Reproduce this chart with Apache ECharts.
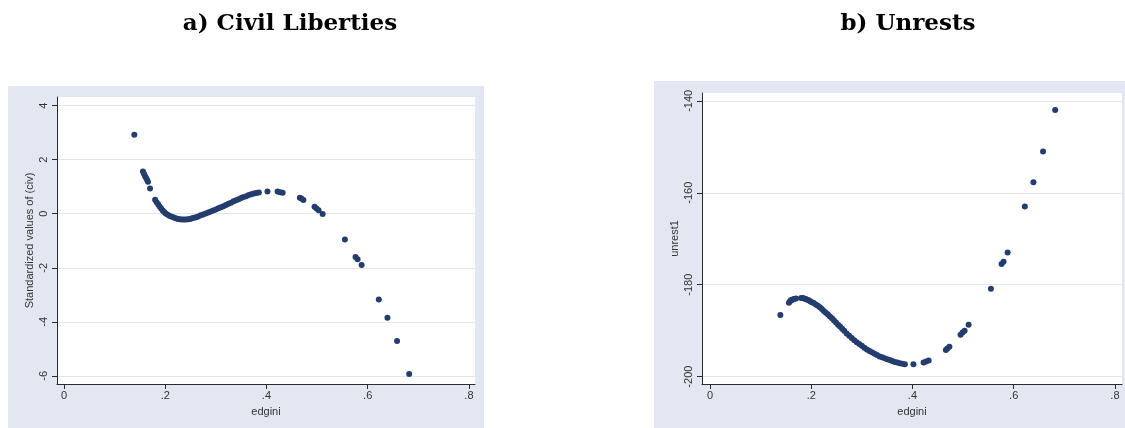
<!DOCTYPE html>
<html>
<head>
<meta charset="utf-8">
<script src="https://cdn.jsdelivr.net/npm/echarts@6/dist/echarts.min.js"></script>
<style>
  html, body { margin: 0; padding: 0; background: #ffffff; }
  #chart { width: 1125px; height: 428px; }
</style>
</head>
<body>
<div id="chart"></div>
<script>
// Panel titles
const panelTitles = ['a) Civil Liberties', 'b) Unrests'];

// Shared x values (edgini)
const edgini = [
  0.139, 0.156, 0.158, 0.160, 0.162, 0.164, 0.166, 0.170, 0.180, 0.183,
  0.186, 0.189, 0.192, 0.195, 0.198, 0.201, 0.205, 0.209, 0.213, 0.217,
  0.221, 0.225, 0.229, 0.233, 0.237, 0.241, 0.245, 0.249, 0.253, 0.257,
  0.261, 0.265, 0.270, 0.275, 0.280, 0.285, 0.290, 0.295, 0.300, 0.305,
  0.310, 0.315, 0.320, 0.325, 0.330, 0.335, 0.340, 0.345, 0.350, 0.355,
  0.360, 0.365, 0.370, 0.375, 0.380, 0.385, 0.402, 0.422, 0.427, 0.432,
  0.466, 0.469, 0.473, 0.495, 0.499, 0.503, 0.511, 0.555, 0.576, 0.580,
  0.588, 0.622, 0.639, 0.658, 0.682
];

// Standardized values of (civ)
const civ = [
  2.92, 1.56, 1.48, 1.40, 1.33, 1.26, 1.18, 0.93, 0.52, 0.43,
  0.35, 0.27, 0.19, 0.12, 0.06, 0.01, -0.04, -0.08, -0.11, -0.14,
  -0.17, -0.19, -0.20, -0.21, -0.21, -0.21, -0.20, -0.19, -0.17, -0.15,
  -0.13, -0.10, -0.06, -0.03, 0.01, 0.05, 0.08, 0.12, 0.16, 0.20,
  0.24, 0.28, 0.32, 0.37, 0.41, 0.46, 0.50, 0.54, 0.58, 0.62,
  0.65, 0.69, 0.72, 0.75, 0.77, 0.79, 0.82, 0.82, 0.80, 0.78,
  0.59, 0.56, 0.51, 0.26, 0.19, 0.13, -0.01, -0.95, -1.60, -1.68,
  -1.90, -3.17, -3.85, -4.71, -5.93
];

// unrest1
const unrest1 = [
  -186.6, -183.9, -183.6, -183.4, -183.3, -183.2, -183.1, -183.0, -182.9, -182.9,
  -183.0, -183.1, -183.3, -183.4, -183.6, -183.8, -184.0, -184.3, -184.6, -184.9,
  -185.3, -185.7, -186.1, -186.5, -186.9, -187.3, -187.8, -188.2, -188.7, -189.1,
  -189.6, -190.0, -190.6, -191.1, -191.6, -192.1, -192.5, -192.9, -193.3, -193.7,
  -194.1, -194.4, -194.7, -195.0, -195.3, -195.6, -195.8, -196.0, -196.2, -196.4,
  -196.6, -196.8, -196.9, -197.1, -197.2, -197.3, -197.3, -196.9, -196.7, -196.5,
  -194.2, -193.9, -193.5, -190.9, -190.4, -190.0, -188.7, -180.9, -175.5, -175.0,
  -173.0, -163.0, -157.7, -151.0, -142.0
];

// Tick labels
const xTicks = [0, 0.2, 0.4, 0.6, 0.8];
const civTicks = [-6, -4, -2, 0, 2, 4];
const unrestTicks = [-200, -180, -160, -140];

const markerColor = '#233d6e';
const panelBg = '#e2e7f1';
const gridColor = '#e3e8f0';
const axisColor = '#2b2b2b';
const labelFont = { fontFamily: 'Liberation Sans, Arial, sans-serif', fontSize: 11, color: '#333333' };

const fmtX = v => (v === 0 ? '0' : String(v).replace(/^0/, ''));

function xAxisFor(gridIndex, min, max) {
  return {
    type: 'value', gridIndex, min, max,
    name: 'edgini', nameLocation: 'middle', nameGap: 22,
    nameTextStyle: labelFont,
    axisLine: { show: true, onZero: false, lineStyle: { color: axisColor, width: 1 } },
    axisTick: { show: true, inside: false, length: 5, customValues: xTicks, lineStyle: { color: axisColor } },
    axisLabel: Object.assign({ customValues: xTicks, margin: 6, formatter: fmtX }, labelFont),
    splitLine: { show: false }
  };
}

function yAxisFor(gridIndex, min, max, ticks, name, nameGap) {
  return {
    type: 'value', gridIndex, min, max,
    name, nameLocation: 'middle', nameGap,
    nameTextStyle: labelFont,
    axisLine: { show: true, onZero: false, lineStyle: { color: axisColor, width: 1 } },
    axisTick: { show: true, inside: false, length: 5, customValues: ticks, lineStyle: { color: axisColor } },
    axisLabel: Object.assign({ customValues: ticks, rotate: 90, margin: 8 }, labelFont),
    splitLine: { show: true, lineStyle: { color: gridColor, width: 1 } }
  };
}

const chart = echarts.init(document.getElementById('chart'), null, { renderer: 'canvas' });

chart.setOption({
  backgroundColor: '#ffffff',
  animation: false,
  graphic: [
    { type: 'rect', z: -10, shape: { x: 8, y: 86, width: 476, height: 342 }, style: { fill: panelBg } },
    { type: 'rect', z: -10, shape: { x: 654, y: 81, width: 471, height: 347 }, style: { fill: panelBg } }
  ],
  title: [
    { text: panelTitles[0], left: 285, top: 8, textAlign: 'center',
      textStyle: { fontFamily: 'DejaVu Serif', fontWeight: 'bold', fontSize: 23, color: '#000' } },
    { text: panelTitles[1], left: 903, top: 8, textAlign: 'center',
      textStyle: { fontFamily: 'DejaVu Serif', fontWeight: 'bold', fontSize: 23, color: '#000' } }
  ],
  grid: [
    { left: 57, right: 650, top: 97, bottom: 44, show: true, backgroundColor: '#ffffff', borderWidth: 0, containLabel: false },
    { left: 702, right: 3, top: 93, bottom: 44, show: true, backgroundColor: '#ffffff', borderWidth: 0, containLabel: false }
  ],
  xAxis: [
    xAxisFor(0, -0.0138, 0.812),
    xAxisFor(1, -0.0158, 0.814)
  ],
  yAxis: [
    yAxisFor(0, -6.3, 4.32, civTicks, 'Standardized values of (civ)', 22),
    yAxisFor(1, -201.6, -138.3, unrestTicks, 'unrest1', 22)
  ],
  series: [
    {
      type: 'scatter', xAxisIndex: 0, yAxisIndex: 0, symbolSize: 6,
      itemStyle: { color: markerColor, opacity: 1 },
      data: edgini.map((x, i) => [x, civ[i]])
    },
    {
      type: 'scatter', xAxisIndex: 1, yAxisIndex: 1, symbolSize: 6,
      itemStyle: { color: markerColor, opacity: 1 },
      data: edgini.map((x, i) => [x, unrest1[i]])
    }
  ]
});
</script>
</body>
</html>
